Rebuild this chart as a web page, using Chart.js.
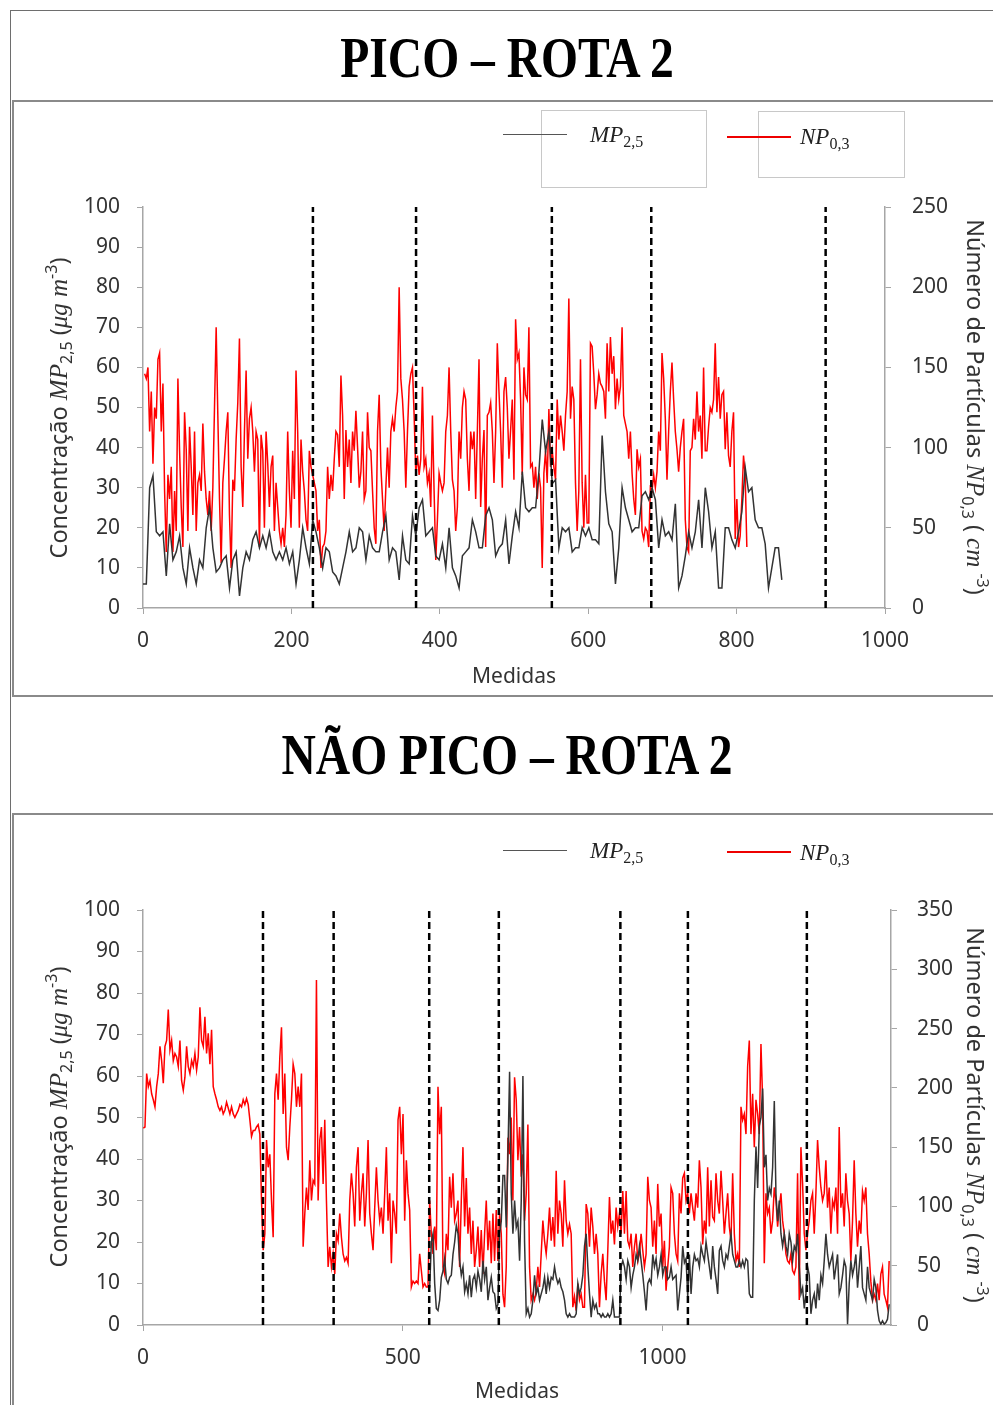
<!DOCTYPE html>
<html>
<head>
<meta charset="utf-8">
<script src="https://cdn.jsdelivr.net/npm/chart.js@4.4.1/dist/chart.umd.min.js"></script>
<style>
  body { margin: 0; width: 993px; height: 1405px; overflow: hidden; position: relative; background: #fff; font-family: "Noto Sans", sans-serif; }
  .frame { position: absolute; left: 10px; top: 10px; width: 1100px; height: 1500px; border-left: 1.5px solid #6e6e6e; border-top: 1.5px solid #6e6e6e; }
  .box { position: absolute; left: 12px; width: 1100px; border: 2px solid #8a8a8a; box-sizing: border-box; }
  .title { position: absolute; left: 0; width: 1014px; text-align: center; font-family: "Liberation Serif", serif; font-weight: bold; font-size: 58px; line-height: 58px; color: #000; transform: scaleX(0.82); white-space: nowrap; }
  canvas { position: absolute; }
  .ytitle { position: absolute; white-space: nowrap; font-size: 23.5px; color: #333; line-height: 26px; }
  .ytitle i { font-family: "Liberation Serif", serif; font-size: 25px; }
  .ytitle sub, .ytitle sup { font-size: 16px; line-height: 0; }
  .ytitle sub { vertical-align: -5px; }
  .ytitle sup { vertical-align: 10px; }
  .leg { position: absolute; font-family: "Liberation Serif", serif; font-style: italic; font-size: 23px; line-height: 26px; color: #222; white-space: nowrap; }
  .leg sub { font-style: normal; font-size: 16px; vertical-align: -5px; line-height: 0; }
  .legline { position: absolute; width: 64px; }
  .legbox { position: absolute; border: 1px solid #c8c8c8; }
</style>
</head>
<body>
<div class="frame"></div>

<canvas id="pico" width="981" height="597" style="left:12px;top:100px"></canvas>
<canvas id="naopico" width="981" height="590" style="left:12px;top:815px"></canvas>

<div class="box" style="top:100px;height:597px"></div>
<div class="box" style="top:813px;height:700px"></div>

<div class="title" style="top:29px">PICO – ROTA 2</div>
<div class="title" style="top:726px">NÃO PICO – ROTA 2</div>

<!-- legenda pico -->
<div class="legbox" style="left:541px;top:110px;width:164px;height:76px"></div>
<div class="legbox" style="left:758px;top:111px;width:145px;height:65px"></div>
<div class="legline" style="left:503px;top:134px;height:1.3px;background:#555"></div>
<div class="leg" style="left:590px;top:122px">MP<sub>2,5</sub></div>
<div class="legline" style="left:727px;top:136px;height:1.5px;background:#e00"></div>
<div class="leg" style="left:800px;top:124px">NP<sub>0,3</sub></div>

<!-- legenda nao pico -->
<div class="legline" style="left:503px;top:850px;height:1.3px;background:#555"></div>
<div class="leg" style="left:590px;top:838px">MP<sub>2,5</sub></div>
<div class="legline" style="left:727px;top:851px;height:1.5px;background:#e00"></div>
<div class="leg" style="left:800px;top:840px">NP<sub>0,3</sub></div>

<!-- titulos dos eixos y -->
<div class="ytitle" style="left:58px;top:408px;transform:translate(-50%,-50%) rotate(-90deg)">Concentração <i>MP</i><sub>2,5</sub> (<i>μg m</i><sup>-3</sup>)</div>
<div class="ytitle" style="left:975px;top:407px;transform:translate(-50%,-50%) rotate(90deg)">Número de Partículas <i>NP</i><sub>0,3</sub> ( <i>cm</i> <sup>-3</sup>)</div>
<div class="ytitle" style="left:58px;top:1117px;transform:translate(-50%,-50%) rotate(-90deg)">Concentração <i>MP</i><sub>2,5</sub> (<i>μg m</i><sup>-3</sup>)</div>
<div class="ytitle" style="left:975px;top:1115px;transform:translate(-50%,-50%) rotate(90deg)">Número de Partículas <i>NP</i><sub>0,3</sub> ( <i>cm</i> <sup>-3</sup>)</div>

<script>
// ---------- PICO - ROTA 2 ----------
// MP2,5 (ug m-3), one value every ~4.5 medidas starting at 0
const picoMpStart = 0, picoMpStep = 4.484;
const picoMp = [
  6,6,30,33,19,18,19,8,21,12, 14,18,10,6,15,10,6,12,10,20,
  25,15,9,10,12,13,5,12,14,3, 10,14,12,17,19,15,18,15,19,14,
  12,14,12,15,11,14,6,12,20,15, 11,22,19,15,10,15,14,9,8,6,
  10,14,19,14,15,20,19,12,18,15, 14,14,19,23,12,15,14,7,
  18,12,11,23,18,25,27,18,19,20, 13,12,16,10,20,10,8,5,13,14,
  15,22,19,15,15,23,25,22,13,15, 16,22,11,18,24,20,34,25,24,25,
  25,34,47,39,44,31,32,15,20,19, 20,14,15,15,20,18,20,17,17,16,
  43,29,21,19,6,15,30,25,22,19, 20,20,28,29,27,
  30,27,15,22,18,19,17,26,5,8, 13,19,15,19,27,15,30,24,15,19,
  5,5,20,20,17,15,19,24,35,29, 30,22,20,20,16,5,10,15,15,7
];
// NP0,3 (cm-3), one value every ~2.2 medidas
const picoNpStart = 2.2, picoNpStep = 2.242;
const picoNp = [
  146,143,150,110,135,90,125,118,155,159, 110,140,73,35,83,68,88,35,73,48,
  143,98,63,38,122,99,48,113,88,58, 110,48,78,83,73,115,85,68,58,73,
  48,75,125,175,120,68,28,78,93,110, 122,58,25,80,73,105,128,168,88,63,
  110,148,93,118,125,110,85,110,105,38, 108,98,50,110,90,63,88,95,48,78,
  63,48,40,50,38,58,110,73,50,98, 68,148,110,50,105,85,73,55,48,98,
  88,83,78,73,48,55,25,38,40,48, 88,68,83,73,93,110,108,88,145,120,
  68,111,88,105,78,110,98,123,100,75, 85,110,68,73,122,100,98,73,50,40,
  110,133,88,68,48,75,100,75,110,118, 110,125,135,200,
  143,130,110,75,110,138,146,150,120,84, 95,83,93,138,88,93,78,84,63,120,
  73,30,55,84,78,73,78,110,120,150, 110,80,73,48,63,110,93,125,135,130,
  93,73,110,99,110,68,110,155,63,93, 111,38,120,122,128,110,78,110,165,135,
  110,75,135,144,125,93,111,130,80,180, 155,159,130,83,150,133,130,175,88,90,
  75,88,68,84,75,25,84,98,78,124, 88,98,88,80,130,105,120,110,98,120,
  135,193,118,138,130,78,48,73,155,78, 50,83,53,53,165,163,146,124,133,146,
  140,138,135,118,165,135,169,146,157,124, 143,130,138,175,120,115,110,93,110,84,
  68,58,99,88,93,48,43,50,48,38,
  75,73,83,75,85,110,98,159,143,118, 80,110,135,153,130,110,99,85,100,110,
  118,55,38,35,98,100,118,105,135,110, 120,93,150,98,98,113,125,122,130,165,
  122,144,118,133,135,99,122,95,88,110, 122,43,68,38,45,68,95,83,38
];
const picoDivisoes = [229, 368, 551, 685, 920];
const picoXTicks = [0, 200, 400, 600, 800, 1000];

// ---------- NAO PICO - ROTA 2 ----------
const naoMpStart = 551.9, naoMpStep = 3.205;
const naoMp = [
  9,20,22,10,4,3.5,6,11.5,13,16, 11,10,11.5,12,17,20,24,22,15.5,12,
  14,8,10,7.5,12,6.7,11,12,9,13, 11,8,15.5,11,14,6,9,11.5,8,7.5,
  4,5,22,25,36,36,23.5,41,61,31.6, 22,30,23.5,25,15.5,30,60,20,2.7,4,
  1.9,2.7,6,12,7.5,9,6,7.5,9,11.5, 7.5,11.5,9,11.5,11,14,11.5,10,11,9,
  8,6,2.7,1.9,2.7,1.9,1.9,1.9,2.7,10, 7.5,9,12,19,22,14,7.5,1.9,6,4,
  5,2.7,2.7,1.9,2.7,1.9,1.9,2.7,1.9,2.7, 6,1.9,1.9,1.9,1.9,14,15.5,14,11,15.5,
  14,9,12,14,17,15.5,19,15.5,12,8, 3.5,10,11,
  10,17,14,16,12,14,17,12,14,14, 11,11.5,14,11,11.5,12,3.5,7.5,11.5,19,
  15,16,6.7,17,7.5,14,17,15.5,16,14, 19,17,15.5,20,17,14,11,19,14,11,
  7.5,18,19,15.5,14,17,16,19,22,17, 15.5,14,14,15.5,14,15.5,14,16,15.5,7.5,
  6.7,6.7,30,43,33,48,50,57,38,41, 30,33,31.6,38,54,31.6,25,30,22,19,
  22,19,17,22,20,15.5,19,18,22,14, 7.5,9,4,7.5,14,12,2.7,6,7.5,4,
  10,6,12,10,15.5,22,17,14,15.5,17, 11,14,17,7.5,9,12,15.5,14,0.2,10,
  15.5,12,14,17,9,14,19,9,7.5,6, 14,9,7.5,6,11,9,3.5,1,0.2,1,
  0.2,0.6,1.4,5
];
const naoNpStart = 0.6, naoNpStep = 3.205;
const naoNp = [
  166,167,212,201,206,195,190,184,201,212, 235,223,204,235,240,266,232,240,223,229,
  226,218,240,206,198,209,235,218,212,223, 218,229,215,226,268,240,235,260,229,246,
  220,249,201,195,190,184,181,184,178,181, 188,183,178,184,178,175,178,181,186,184,
  190,186,191,186,173,159,164,164,167,169, 161,105,63,77,156,133,144,105,74,195,
  212,190,226,251,178,212,150,139,167,190, 220,212,184,201,184,212,66,94,116,97,
  139,105,122,119,291,105,156,167,119,173, 105,49,66,49,60,43,77,71,94,74,
  60,54,57,52,105,128,111,83,133,150, 88,111,128,83,111,156,94,77,63,99,
  133,105,88,99,77,111,150,88,111,52, 105,94,77,173,
  184,144,178,88,139,111,97,32,37,35, 37,35,60,46,32,35,32,32,105,77,
  60,83,63,201,161,184,49,43,77,63, 125,99,128,88,94,105,49,105,150,83,
  124,77,99,60,88,49,63,83,49,80, 43,77,105,63,88,52,94,54,97,54,
  94,77,26,15,49,158,144,175,105,209, 190,139,167,125,144,88,111,169,49,21,
  26,21,29,49,32,60,88,71,60,77, 99,71,91,66,130,77,105,94,66,122,
  88,77,85,77,15,24,12,35,21,26, 15,15,102,94,66,99,83,60,77,60,
  15,43,60,37,21,63,108,77,88,68, 99,83,94,77,113,77,113,71,66,77,
  49,66,77,54,60,77,63,49,60,125, 105,
  99,66,88,60,119,83,94,49,71,29, 49,66,116,111,77,60,54,111,94,124,
  128,105,111,94,111,99,88,111,99,139, 116,68,88,77,133,83,122,91,88,128,
  105,94,130,105,77,94,111,83,71,128, 77,54,60,49,184,173,178,161,218,240,
  161,195,150,190,178,161,237,190,52,111, 94,99,77,88,116,105,83,99,111,88,
  77,60,54,52,60,46,43,49,128,21, 150,119,77,63,77,88,105,111,77,111,
  156,133,116,105,111,139,99,116,77,105, 99,116,77,167,99,111,83,128,105,94,
  54,88,139,94,66,88,77,113,105,116, 77,60,37,21,26,21,35,21,43,49,
  26,21,15,54
];
const naoDivisoes = [231, 367, 551, 685, 919, 1049, 1278];
const naoXTicks = [0, 500, 1000];

// ---------- helpers ----------
const pts = (vals, x0, dx) => vals.map((v, i) => ({ x: x0 + i * dx, y: v }));
const axisColor = '#a6a6a6';
const tickFont = { family: 'Noto Sans', size: 21 };
const plain = v => String(v);

function grafico(id, cfg) {
  const datasets = cfg.divisoes.map(d => ({
    data: [{ x: d, y: 0 }, { x: d, y: 100 }],
    yAxisID: 'y', borderColor: '#000', borderWidth: 2.5, borderDash: [7, 4],
    pointRadius: 0, order: 0
  }));
  datasets.push({
    label: 'MP2,5', data: pts(cfg.mp, cfg.mpStart, cfg.mpStep), yAxisID: 'y',
    borderColor: '#333333', borderWidth: 1.5, pointRadius: 0, order: 1
  });
  datasets.push({
    label: 'NP0,3', data: pts(cfg.np, cfg.npStart, cfg.npStep), yAxisID: 'y2',
    borderColor: '#ff0000', borderWidth: 1.5, pointRadius: 0, order: 2
  });

  return new Chart(id, {
    type: 'line',
    data: { datasets },
    options: {
      responsive: false,
      animation: false,
      events: [],
      layout: { padding: cfg.padding },
      plugins: { legend: { display: false }, tooltip: { enabled: false } },
      scales: {
        x: {
          type: 'linear', min: 0, max: cfg.xMax,
          afterBuildTicks: s => { s.ticks = cfg.xTicks.map(v => ({ value: v })); },
          ticks: { color: '#333', font: tickFont, padding: 14, maxRotation: 0, callback: plain },
          grid: { drawOnChartArea: false, tickLength: 6, color: axisColor },
          border: { color: axisColor, width: 1.5 },
          title: { display: true, text: 'Medidas', color: '#333', font: tickFont, padding: { top: 0, bottom: 0 } },
          afterFit: s => { s.height = cfg.xHeight; }
        },
        y: {
          position: 'left', min: 0, max: 100,
          ticks: { stepSize: 10, color: '#333', font: tickFont, padding: 17, callback: plain },
          grid: { drawOnChartArea: false, tickLength: 6, color: axisColor },
          border: { color: axisColor, width: 1.5 },
          afterFit: s => { s.width = 70; }
        },
        y2: {
          position: 'right', min: 0, max: cfg.y2Max,
          ticks: { stepSize: 50, color: '#333', font: tickFont, padding: cfg.y2Pad, callback: plain },
          grid: { drawOnChartArea: false, tickLength: 6, color: axisColor },
          border: { color: axisColor, width: 1.5 },
          afterFit: s => { s.width = 70; }
        }
      }
    }
  });
}

grafico('pico', {
  mp: picoMp, mpStart: picoMpStart, mpStep: picoMpStep,
  np: picoNp, npStart: picoNpStart, npStep: picoNpStep,
  divisoes: picoDivisoes, xTicks: picoXTicks, xMax: 1000, y2Max: 250,
  padding: { left: 61, right: 38, top: 107, bottom: 7 }, xHeight: 82, y2Pad: 21
});

grafico('naopico', {
  mp: naoMp, mpStart: naoMpStart, mpStep: naoMpStep,
  np: naoNp, npStart: naoNpStart, npStep: naoNpStep,
  divisoes: naoDivisoes, xTicks: naoXTicks, xMax: 1440, y2Max: 350,
  padding: { left: 61, right: 32, top: 95, bottom: 0 }, xHeight: 80, y2Pad: 20
});
</script>
</body>
</html>
